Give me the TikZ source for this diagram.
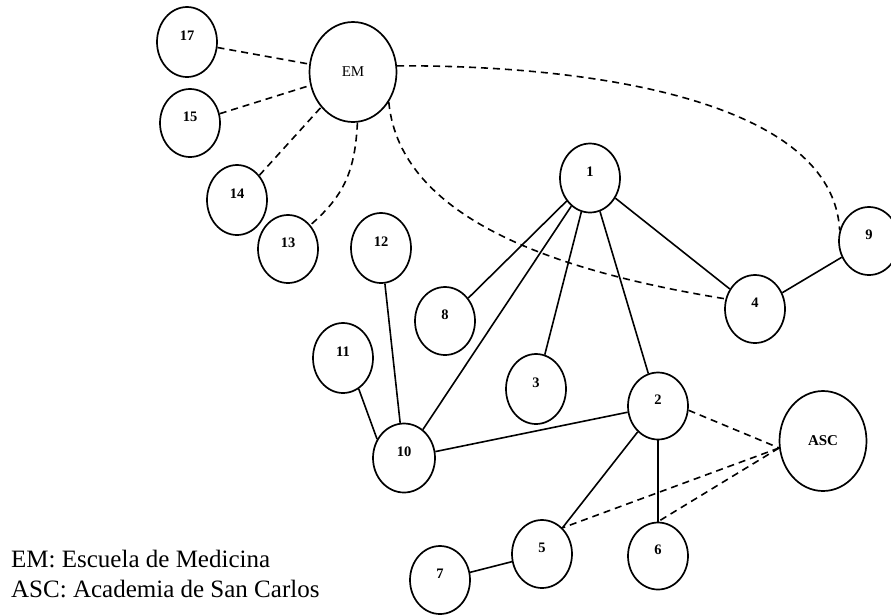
\documentclass[tikz,border=0pt]{standalone}
\usepackage{fontspec}
\setmainfont{Liberation Serif}
\usetikzlibrary{shapes.geometric}
\tikzset{
  gnode/.style={ellipse, draw, line width=1.7pt, inner sep=0pt,
    minimum width=60pt, minimum height=68pt},
  numnode/.style={gnode, font=\bfseries\fontsize{14.5}{14.5}\selectfont,
    text height=9.8pt, text depth=12pt},
  bignode/.style={gnode, minimum width=87pt, minimum height=100pt},
  solidedge/.style={line width=1.6pt},
  dashedge/.style={line width=1.6pt, dash pattern=on 7pt off 5pt},
  legend/.style={anchor=base west, inner sep=0pt, font=\fontsize{25}{25}\selectfont}
}
\begin{document}
\begin{tikzpicture}[x=1pt, y=-1pt]
\useasboundingbox (0,0) rectangle (891,614);
% nodes
\node[bignode, font=\fontsize{15}{15}\selectfont] (EM) at (353,72) {EM};
\node[bignode, font=\bfseries\fontsize{15}{15}\selectfont] (ASC) at (823,441) {ASC};
\node[numnode, minimum height=70pt] (n17) at (187,42) {17};
\node[numnode] (n15) at (190,123) {15};
\node[numnode, minimum height=70pt] (n14) at (237,200) {14};
\node[numnode] (n13) at (288,249) {13};
\node[numnode, minimum height=70pt] (n12) at (381,248) {12};
\node[numnode, minimum height=69pt] (n1) at (590,178) {1};
\node[numnode] (n8) at (445,321) {8};
\node[numnode] (n4) at (755,309) {4};
\node[numnode] (n9) at (869,241) {9};
\node[numnode, minimum height=70pt] (n11) at (343,358) {11};
\node[numnode, minimum height=70pt] (n3) at (536,389) {3};
\node[numnode, minimum width=62pt, minimum height=69pt] (n10) at (404,458) {10};
\node[numnode, minimum height=67pt] (n2) at (658,406) {2};
\node[numnode] (n5) at (542,554) {5};
\node[numnode, minimum height=67pt] (n6) at (658,556) {6};
\node[numnode] (n7) at (440,580) {7};
% solid edges
\draw[solidedge] (n1) -- (n8);
\draw[solidedge] (n1) -- (n10);
\draw[solidedge] (n1) -- (n3);
\draw[solidedge] (n1) -- (n2);
\draw[solidedge] (n1) -- (n4);
\draw[solidedge] (n4) -- (n9);
\draw[solidedge] (n12) -- (n10);
\draw[solidedge] (n11.-63) -- (n10.145);
\draw[solidedge] (n10) -- (n2);
\draw[solidedge] (n2) -- (n5.52);
\draw[solidedge] (n2) -- (n6);
\draw[solidedge] (n5) -- (n7);
% dashed edges
\draw[dashedge] (n17) -- (EM);
\draw[dashedge] (n15) -- (EM);
\draw[dashedge] (n14) -- (EM);
\draw[dashedge] (EM.-85) .. controls (355,170) and (345,195) .. (n13.47);
\draw[dashedge] (EM.-40) .. controls (400,220) and (560,272) .. (n4.161);
\draw[dashedge] (EM.8) .. controls (600,65) and (833,103) .. (n9.160);
\coordinate (ascin) at (ASC.189);
\draw[dashedge] (n2.-8) -- (ascin);
\draw[dashedge] (ascin) -- (n5.52);
\draw[dashedge] (ascin) -- (n6.north);
% legend
\node[legend] (l1) at (11,567) {EM: Escuela de Medicina};
\node[legend] (l2) at (11,597) {ASC: Academia de San Carlos};
\end{tikzpicture}
\end{document}
